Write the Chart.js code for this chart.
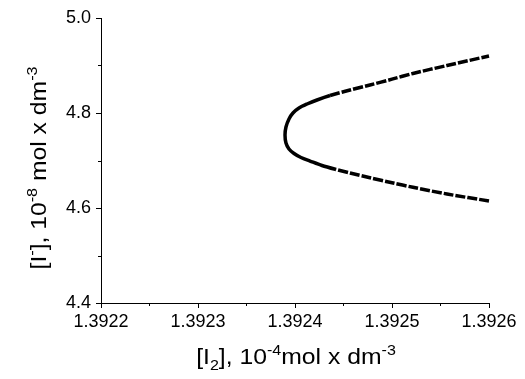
<!DOCTYPE html>
<html>
<head>
<meta charset="utf-8">
<script src="https://cdn.jsdelivr.net/npm/chart.js@4.4.1/dist/chart.umd.min.js"></script>
<style>
html,body{margin:0;padding:0;background:#fff}
#wrap{width:525px;height:379px}
</style>
</head>
<body>
<div id="wrap"><canvas id="chart"></canvas></div>
<script>
/* axis ticks */
const xTicks = [1.3922, 1.3923, 1.3924, 1.3925, 1.3926]
const xMinor = [1.39225, 1.39235, 1.39245, 1.39255]
const yTicks = [4.4, 4.6, 4.8, 5.0]
const yMinor = [4.5, 4.7, 4.9]

/* curve: lower branch (right to vertex), then upper branch */
const lowerX = [1.3926000, 1.3925567, 1.3925216, 1.3925000, 1.3924773, 1.3924567, 1.3924423, 1.3924278, 1.3924155, 1.3924062, 1.3923990, 1.3923938, 1.3923907]
const lowerY = [4.6147, 4.6295, 4.6436, 4.6531, 4.6636, 4.6737, 4.6811, 4.6895, 4.6989, 4.7063, 4.7147, 4.7242, 4.7368]
const vertexX = [1.3923897]
const vertexY = [4.7537]
const upperX = [1.3923907, 1.3923938, 1.3923979, 1.3924041, 1.3924124, 1.3924227, 1.3924361, 1.3924567, 1.3924773, 1.3925000, 1.3925216, 1.3925567, 1.3926000]
const upperY = [4.7705, 4.7874, 4.8000, 4.8105, 4.8189, 4.8274, 4.8368, 4.8484, 4.8589, 4.8712, 4.8832, 4.9000, 4.9200]

const xTitle = [["[I",0],["2",-1],["], 10",0],["-4",1],["mol x dm",0],["-3",1]]
const yTitle = [["[I",0],["-",1],["], 10",0],["-8",1],[" mol x dm",0],["-3",1]]

const curve = []
lowerX.forEach((v,i)=>curve.push({x:v,y:lowerY[i]}))
vertexX.forEach((v,i)=>curve.push({x:v,y:vertexY[i]}))
upperX.forEach((v,i)=>curve.push({x:v,y:upperY[i]}))

const FONT = "'Liberation Sans', Arial, sans-serif"

/* rich text with sub/superscripts */
function richWidth(ctx, parts, size){
let w = 0
parts.forEach(p=>{
ctx.font = (p[1] ? size*0.65 : size) + "px " + FONT
w += ctx.measureText(p[0]).width
})
return w
}
function drawRich(ctx, parts, size){
let w = richWidth(ctx, parts, size)
let x = -w/2
parts.forEach(p=>{
ctx.font = (p[1] ? size*0.65 : size) + "px " + FONT
let dy = p[1]===1 ? -size*0.42 : (p[1]===-1 ? size*0.28 : 0)
ctx.fillText(p[0], x, dy)
x += ctx.measureText(p[0]).width
})
}

const extras = {
id:"extras",
afterDraw(chart){
const ctx = chart.ctx
const xs = chart.scales.x
const ys = chart.scales.y
const area = chart.chartArea
ctx.save()
ctx.strokeStyle = "#000"
ctx.lineWidth = 1
ctx.beginPath()
xMinor.forEach(v=>{
const px = Math.round(xs.getPixelForValue(v)) + 0.5
ctx.moveTo(px, area.bottom)
ctx.lineTo(px, area.bottom + 3)
})
yMinor.forEach(v=>{
const py = Math.round(ys.getPixelForValue(v)) + 0.5
ctx.moveTo(area.left - 3, py)
ctx.lineTo(area.left, py)
})
ctx.stroke()

ctx.fillStyle = "#000"
ctx.textBaseline = "alphabetic"
ctx.textAlign = "left"

/* x title */
ctx.save()
ctx.translate(296, 364)
ctx.scale(1.15, 1)
drawRich(ctx, xTitle, 21.5)
ctx.restore()

/* y title */
ctx.save()
ctx.translate(46, 168)
ctx.rotate(-Math.PI/2)
ctx.scale(1.15, 1)
drawRich(ctx, yTitle, 21.5)
ctx.restore()

ctx.restore()
}
}

new Chart(document.getElementById("chart"), {
type:"scatter",
data:{
datasets:[{
data:curve,
showLine:true,
borderColor:"#000",
borderWidth:3.5,
pointRadius:0,
tension:0.3,
clip:false,
segment:{
borderDash: ctx => (ctx.p0.parsed.x > 1.392435 && ctx.p1.parsed.x > 1.392435) ? [10,2] : undefined
}
}]
},
options:{
responsive:true,
maintainAspectRatio:false,
animation:false,
layout:{padding:{left:0, right:36, top:18, bottom:0}},
plugins:{legend:{display:false}, tooltip:{enabled:false}},
scales:{
x:{
type:"linear",
min:1.3922,
max:1.3926,
afterBuildTicks: s => { s.ticks = xTicks.map(v=>({value:v})) },
afterFit: s => { s.height = 76 },
ticks:{color:"#000", padding:3, maxRotation:0, autoSkip:false,
font:{family:FONT, size:18},
callback: v => Number(v).toFixed(4)},
grid:{display:true, drawOnChartArea:false, drawTicks:true, tickLength:5, color:"#000", tickColor:"#000"},
border:{display:true, color:"#000", width:1}
},
y:{
type:"linear",
min:4.4,
max:5.0,
afterBuildTicks: s => { s.ticks = yTicks.map(v=>({value:v})) },
afterFit: s => { s.width = 101 },
ticks:{color:"#000", padding:5, autoSkip:false,
font:{family:FONT, size:18},
callback: v => Number(v).toFixed(1)},
grid:{display:true, drawOnChartArea:false, drawTicks:true, tickLength:5, color:"#000", tickColor:"#000"},
border:{display:true, color:"#000", width:1}
}
}
},
plugins:[extras]
})
</script>
</body>
</html>
